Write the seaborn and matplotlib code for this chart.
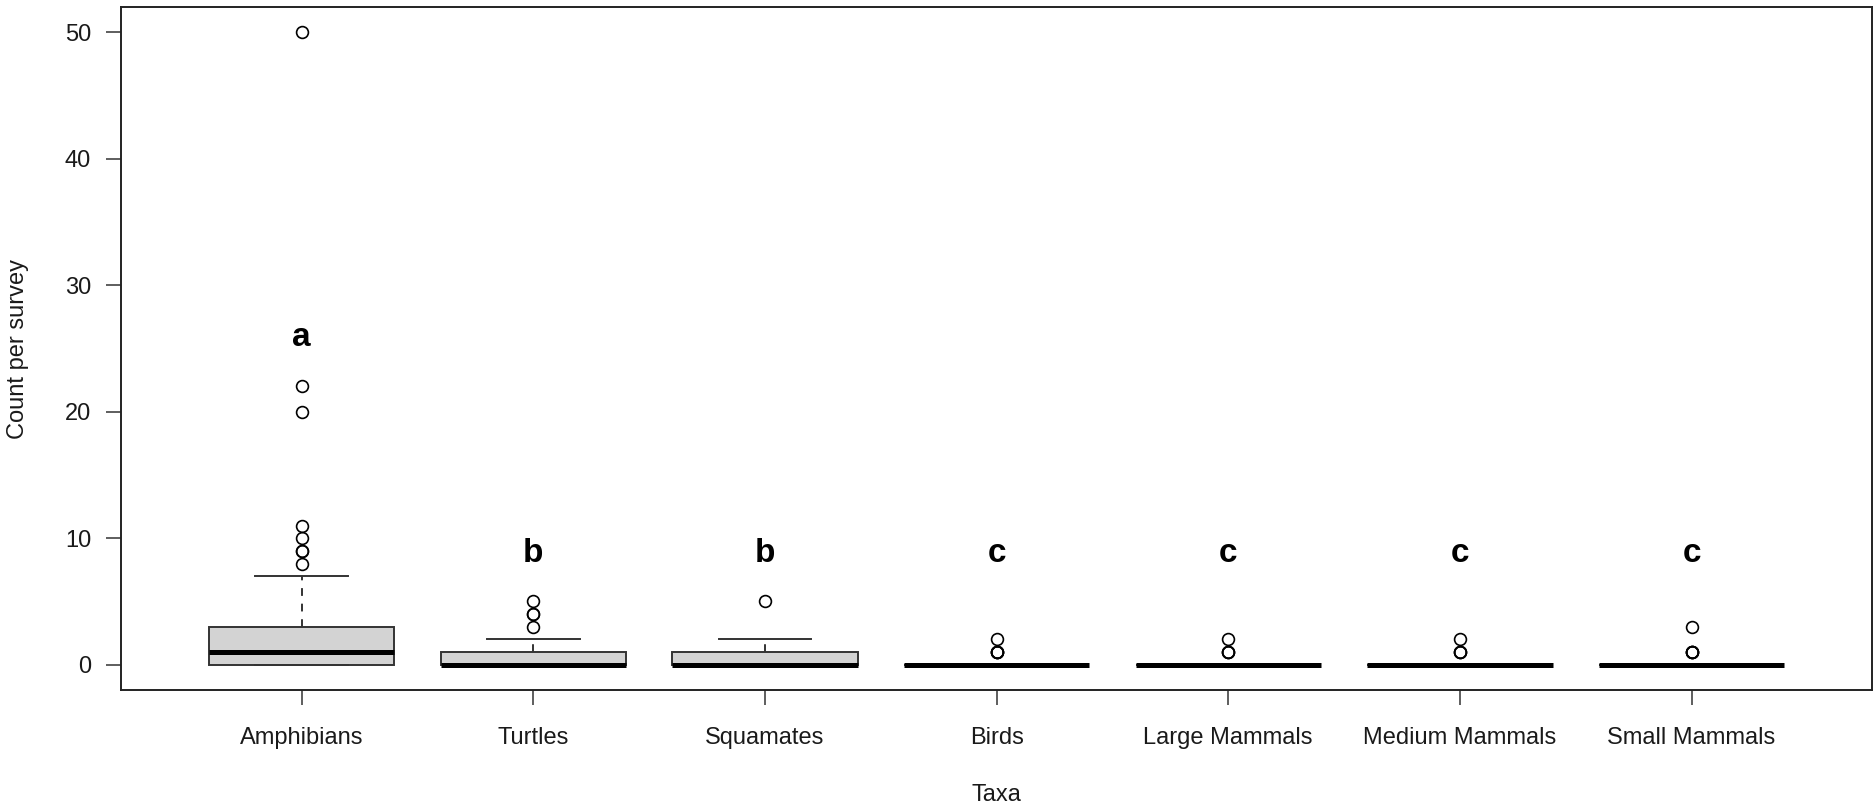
import numpy as np
import pandas as pd
import matplotlib
matplotlib.use("Agg")
import matplotlib.pyplot as plt
import seaborn as sns

# ---- data (frequency tables) ----
taxa = ["Amphibians", "Turtles", "Squamates", "Birds",
        "Large Mammals", "Medium Mammals", "Small Mammals"]

amph_values = [0, 1, 2, 3, 4, 5, 6, 7, 8, 9, 10, 11, 20, 22, 50]
amph_counts = [30, 25, 15, 12, 5, 4, 2, 1, 1, 2, 1, 1, 1, 1, 1]

turt_values = [0, 1, 2, 3, 4, 5]
turt_counts = [60, 25, 8, 1, 2, 1]

squa_values = [0, 1, 2, 5]
squa_counts = [55, 30, 6, 1]

bird_values = [0, 1, 2]
bird_counts = [90, 4, 1]

lmam_values = [0, 1, 2]
lmam_counts = [90, 3, 1]

mmam_values = [0, 1, 2]
mmam_counts = [90, 3, 1]

smam_values = [0, 1, 3]
smam_counts = [90, 4, 1]

letters = ["a", "b", "b", "c", "c", "c", "c"]
letter_y = [25.9, 8.8, 8.8, 8.8, 8.8, 8.8, 8.8]

y_ticks = [0, 10, 20, 30, 40, 50]

# ---- build long-form table ----
tables = [(amph_values, amph_counts), (turt_values, turt_counts),
          (squa_values, squa_counts), (bird_values, bird_counts),
          (lmam_values, lmam_counts), (mmam_values, mmam_counts),
          (smam_values, smam_counts)]
rows = []
for name, (vals, cnts) in zip(taxa, tables):
    for v, c in zip(vals, cnts):
        rows.extend([(name, v)] * c)
df = pd.DataFrame(rows, columns=["Taxa", "Count"])

plt.rcParams["font.family"] = ["Liberation Sans", "DejaVu Sans"]

fig = plt.figure(figsize=(18.75, 8.07), dpi=100)
ax = fig.add_axes([0.0645, 0.145, 0.934, 0.8463])

edge = "#333333"
sns.boxplot(
    data=df, x="Taxa", y="Count", order=taxa, ax=ax,
    color="#D3D3D3", linecolor=edge, linewidth=1.4, width=0.8,
    whis=1.5, saturation=1,
    whiskerprops=dict(linestyle=(0, (4, 4)), color=edge, linewidth=1.4),
    capprops=dict(linestyle="-", color=edge, linewidth=1.4),
    medianprops=dict(color="black", linewidth=3.6, solid_capstyle="butt"),
    flierprops=dict(marker="o", markerfacecolor="none",
                    markeredgecolor="black", markersize=8.5,
                    markeredgewidth=1.2),
)

for i, (lab, yy) in enumerate(zip(letters, letter_y)):
    ax.text(i, yy, lab, ha="center", va="center", fontsize=24,
            fontweight="bold", color="black")

ax.set_xlim(-0.78, 6.78)
ax.set_ylim(-2, 52)
ax.set_yticks(y_ticks)
ax.set_yticklabels([str(t) for t in y_ticks])

for s in ax.spines.values():
    s.set_visible(True)
    s.set_color("#222222")
    s.set_linewidth(1.4)

ax.tick_params(axis="both", length=10.5, width=1.1, color="#333333",
               labelsize=17, labelcolor="#1a1a1a")
ax.tick_params(axis="x", pad=16.5)
ax.tick_params(axis="y", pad=11)

ax.set_xlabel("Taxa", fontsize=17, color="#1a1a1a", labelpad=25)
ax.set_ylabel("Count per survey", fontsize=17, color="#1a1a1a", labelpad=25.5)
ax.grid(False)
ax.set_facecolor("white")
fig.patch.set_facecolor("white")

fig.savefig("out.png", dpi=100, facecolor="white")
